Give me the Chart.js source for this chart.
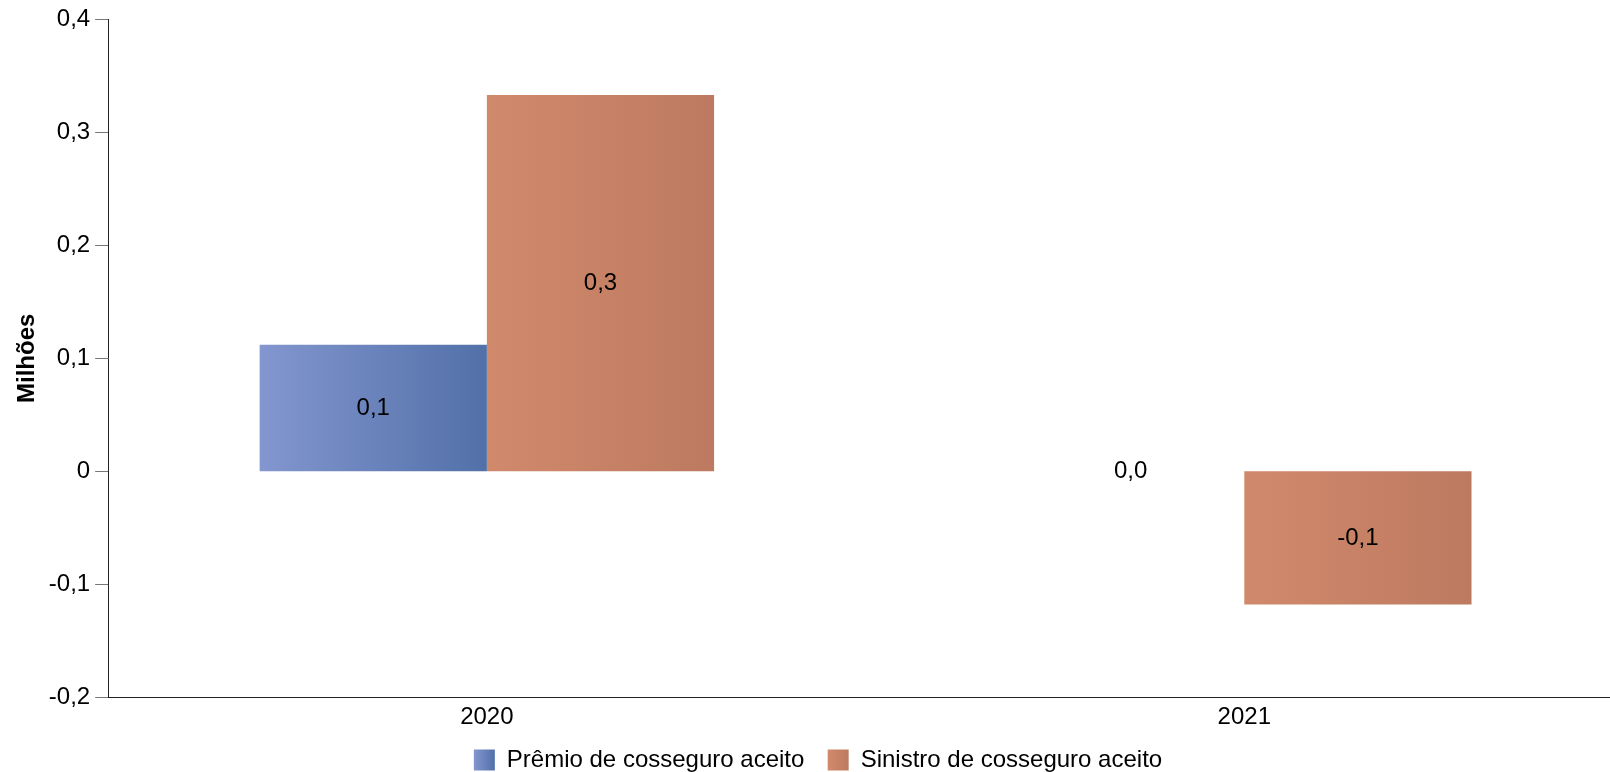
<!DOCTYPE html>
<html><head><meta charset="utf-8">
<script src="https://cdn.jsdelivr.net/npm/chart.js@4.4.1/dist/chart.umd.min.js"></script>
<style>html,body{margin:0;padding:0;overflow:hidden;background:#fff}
#wrap{position:relative;width:1623px;height:772px}
</style></head><body><div id="wrap"><canvas id="c" width="1623" height="772"></canvas></div>
<script>
const categories = ['2020', '2021'];
const seriesNames = ['Prêmio de cosseguro aceito', 'Sinistro de cosseguro aceito'];
const premioValues = [0.112, 0.0];
const sinistroValues = [0.333, -0.118];
const yMin = -0.2, yMax = 0.4, yStep = 0.1;
const axisTitle = 'Milhões';

const FONT = '"Liberation Sans", Arial, sans-serif';
const FS = 24;
const BOX = 21;
const gradStops = [['#8396CF', '#5270A8'], ['#D1896C', '#BD7A60']];

function fmt1(v){ return v.toFixed(1).replace('.', ','); }

function barGradient(c, light, dark, mid){
  const chart = c.chart; const xs = chart.scales && chart.scales.x;
  if (!chart.chartArea || !xs || c.dataIndex === undefined) return mid;
  const center = xs.getPixelForValue(c.dataIndex);
  const cw = xs.width / categories.length;
  const bw = cw * 0.6 / 2;
  const left = c.datasetIndex === 0 ? center - bw : center;
  const g = chart.ctx.createLinearGradient(left, 0, left + bw, 0);
  g.addColorStop(0, light); g.addColorStop(1, dark);
  return g;
}

const labelPlugin = {
  id: 'vals',
  beforeDraw(chart){
    const lg = chart.legend; if (!lg || !lg.legendItems || !lg.legendHitBoxes) return;
    lg.legendItems.forEach((it, i) => {
      const hb = lg.legendHitBoxes[i]; if (!hb) return;
      const g = chart.ctx.createLinearGradient(hb.left, 0, hb.left + BOX, 0);
      g.addColorStop(0, gradStops[i][0]); g.addColorStop(1, gradStops[i][1]);
      it.fillStyle = g;
    });
  },
  afterDatasetsDraw(chart){
    const ctx = chart.ctx; ctx.save();
    ctx.font = FS + 'px ' + FONT; ctx.fillStyle = '#000';
    ctx.textAlign = 'center'; ctx.textBaseline = 'middle';
    chart.data.datasets.forEach((ds, di) => {
      const meta = chart.getDatasetMeta(di);
      meta.data.forEach((bar, i) => {
        const p = bar.getProps(['x', 'y', 'base'], true);
        ctx.fillText(fmt1(ds.data[i]), p.x, (p.y + p.base) / 2);
      });
    });
    ctx.restore();
  }
};

new Chart(document.getElementById('c'), {
  type: 'bar',
  data: {
    labels: categories,
    datasets: [
      { label: seriesNames[0], data: premioValues, categoryPercentage: 0.6, barPercentage: 1.0,
        backgroundColor: c => barGradient(c, gradStops[0][0], gradStops[0][1], '#6A83BC'), borderWidth: 0 },
      { label: seriesNames[1], data: sinistroValues, categoryPercentage: 0.6, barPercentage: 1.0,
        backgroundColor: c => barGradient(c, gradStops[1][0], gradStops[1][1], '#C88267'), borderWidth: 0 }
    ]
  },
  options: {
    responsive: false, animation: false,
    layout: { padding: { top: 9, left: 13, right: 0, bottom: -10 } },
    plugins: {
      tooltip: { enabled: false },
      legend: { position: 'bottom',
        labels: { font: { size: FS, family: FONT }, color: '#000', boxWidth: BOX, boxHeight: BOX, padding: 10,
          generateLabels: chart => {
            const items = Chart.defaults.plugins.legend.labels.generateLabels(chart);
            items.forEach((it, i) => { if (i < items.length - 1) it.text = it.text + '  '; });
            return items;
          } } }
    },
    scales: {
      x: {
        grid: { display: true, drawOnChartArea: false, drawTicks: false },
        border: { color: '#222', width: 1 },
        ticks: { font: { size: FS, family: FONT }, color: '#000', padding: 6 }
      },
      y: {
        min: yMin, max: yMax,
        ticks: { stepSize: yStep, font: { size: FS, family: FONT }, color: '#000', padding: 5,
          callback: v => Math.abs(v) < 1e-9 ? '0' : fmt1(v) },
        grid: { drawOnChartArea: false, drawTicks: true, tickLength: 13, color: '#777' },
        border: { color: '#222', width: 1 },
        title: { display: true, text: axisTitle, color: '#000', font: { size: FS, weight: 'bold', family: FONT }, padding: { top: 0, bottom: 2 } }
      }
    }
  },
  plugins: [labelPlugin]
});
</script></body></html>
